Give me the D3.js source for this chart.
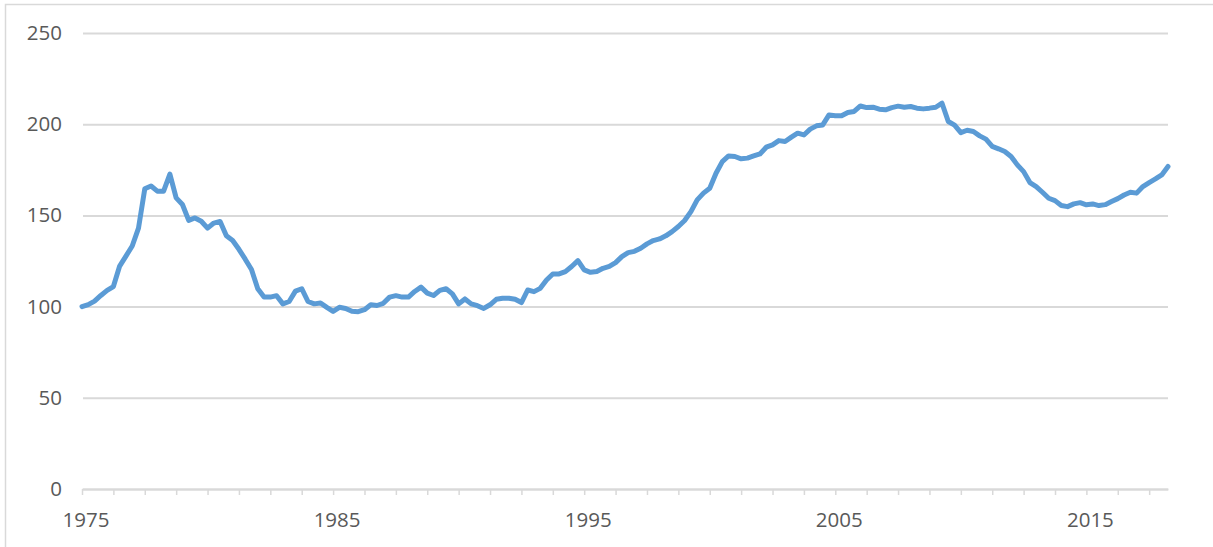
<!DOCTYPE html>
<html>
<head>
<meta charset="utf-8">
<script src="https://cdn.jsdelivr.net/npm/d3@7"></script>
<style>
  html, body { margin: 0; padding: 0; background: #fff; overflow: hidden; }
  svg { display: block; }
  text { font-family: "Open Sans", sans-serif; fill: #595959; }
</style>
</head>
<body>
<svg id="chart"></svg>
<script>
// quarterly index, 1975 Q1 = 100, through 2018 Q2
const startYear = 1975
const values = [
  100, 101.1, 103, 106.1, 108.9, 111, 122.2, 127.7, 133.2, 143,
  164.6, 166.1, 163.3, 163.3, 172.6, 159.6, 156, 147.3, 148.6, 146.8,
  143, 145.8, 146.7, 138.8, 136.2, 131.4, 126, 120.3, 109.8, 105.2,
  105.2, 106, 101.5, 102.8, 108.5, 109.8, 102.8, 101.5, 102, 99.6,
  97.4, 99.6, 99, 97.4, 97.2, 98.3, 101, 100.6, 101.8, 105.2,
  106, 105.2, 105.2, 108.3, 110.7, 107.4, 106.1, 108.9, 109.8, 107,
  101.5, 104.2, 101.5, 100.5, 99, 101, 104, 104.6, 104.6, 104,
  102.2, 109.1, 108.2, 110, 114.6, 117.9, 117.9, 119.2, 122, 125.2,
  120.1, 118.8, 119.2, 121, 122, 124.1, 127.4, 129.6, 130.3, 132,
  134.4, 136.2, 137.1, 138.8, 141.1, 143.9, 147.2, 152.1, 158.5, 162.2,
  164.9, 173.1, 179.5, 182.6, 182.3, 181, 181.4, 182.6, 183.7, 187.4,
  188.7, 191, 190.5, 192.9, 195.1, 194.1, 197.3, 199.1, 199.6, 205.1,
  204.6, 204.6, 206.4, 207, 210, 209.1, 209.3, 208.2, 207.9, 209.1,
  209.9, 209.3, 209.7, 208.8, 208.4, 208.8, 209.3, 211.5, 201.5, 199.5,
  195.4, 196.7, 196, 193.6, 191.8, 187.8, 186.5, 185, 182.3, 177.7,
  174, 168, 165.8, 162.7, 159.4, 158.1, 155.4, 154.8, 156.3, 157,
  155.8, 156.3, 155.4, 155.9, 157.6, 159.2, 161.2, 162.7, 162.2, 165.8,
  168, 170, 172.2, 176.8
]
const quarters = values.map((v, i) => startYear + i / 4)
const xLabels = ['1975', '1985', '1995', '2005', '2015']
const yTicks = [0, 50, 100, 150, 200, 250]

const width = 1213
const height = 547
const plotLeft = 82, plotRight = 1168, plotTop = 33, plotBottom = 489

const svg = d3.select('#chart')
    .attr('width', width)
    .attr('height', height)

// chart frame
svg.append('rect')
    .attr('x', 5.5)
    .attr('y', 4.5)
    .attr('width', width)
    .attr('height', height)
    .attr('fill', 'none')
    .attr('stroke', '#d9d9d9')
    .attr('stroke-width', 1.5)

const x = d3.scaleLinear()
    .domain([0, values.length - 1])
    .range([plotLeft, plotRight])
const y = d3.scaleLinear()
    .domain([0, 250])
    .range([plotBottom, plotTop])

// gridlines + y labels
const yAxis = svg.append('g')
    .attr('transform', `translate(${plotLeft + 1},0)`)
    .call(d3.axisLeft(y)
        .tickValues(yTicks)
        .tickSize(-(plotRight - plotLeft - 1))
        .tickPadding(21))
yAxis.select('.domain').remove()
yAxis.selectAll('.tick line')
    .attr('stroke', '#d9d9d9')
    .attr('stroke-width', 2)
yAxis.selectAll('.tick text')
    .style('font-size', '20.5px')
    .attr('fill', '#595959')

// x axis: ticks every 5 quarters, labels every 40
const xAxis = svg.append('g')
    .attr('transform', `translate(0,${plotBottom})`)
    .call(d3.axisBottom(x)
        .tickValues(d3.range(0, values.length, 5))
        .tickSize(6)
        .tickSizeOuter(0)
        .tickFormat(''))
xAxis.select('.domain')
    .attr('stroke', '#d9d9d9')
    .attr('stroke-width', 2)
xAxis.selectAll('.tick line')
    .attr('stroke', '#d9d9d9')
    .attr('stroke-width', 1.5)

svg.append('g')
    .selectAll('text')
    .data(xLabels)
    .enter()
    .append('text')
    .attr('x', d => x(quarters.indexOf(+d)) + 4)
    .attr('y', plotBottom + 38)
    .attr('text-anchor', 'middle')
    .style('font-size', '20.5px')
    .text(d => d)

const line = d3.line()
    .x((d, i) => x(i))
    .y(d => y(d))

svg.append('path')
    .datum(values)
    .attr('d', line)
    .attr('fill', 'none')
    .attr('stroke', '#5b9bd5')
    .attr('stroke-width', 5)
    .attr('stroke-linejoin', 'round')
    .attr('stroke-linecap', 'round')
</script>
</body>
</html>
